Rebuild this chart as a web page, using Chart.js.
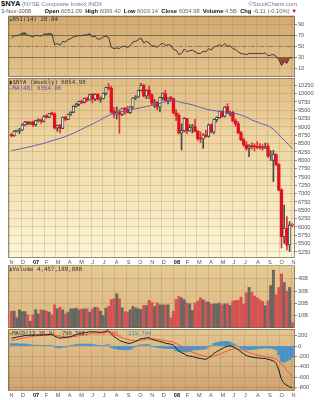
<!DOCTYPE html>
<html>
<head>
<meta charset="utf-8">
<title>$NYA weekly</title>
<script src="https://cdn.jsdelivr.net/npm/chart.js@4.4.1/dist/chart.umd.min.js"></script>
<style>
  html, body { margin: 0; padding: 0; background: #fff; }
  #chart { position: relative; width: 322px; height: 400px; overflow: hidden; }
  #chart canvas { position: absolute; left: 0; }
  .txt { position: absolute; white-space: nowrap; line-height: 1; font-family: 'Liberation Sans', 'DejaVu Sans', sans-serif; }
  .lg { position: absolute; white-space: nowrap; line-height: 1; font-family: 'DejaVu Sans Mono', monospace; font-size: 5.8px; color: #333; }
  .txt b { color: #111; }
</style>
</head>
<body>
<div id="chart">
  <canvas id="rsiPanel" width="322" height="62" style="top:15px;width:322px;height:62px"></canvas>
  <canvas id="pricePanel" width="322" height="188" style="top:78px;width:322px;height:188px"></canvas>
  <canvas id="volumePanel" width="322" height="63" style="top:265px;width:322px;height:63px"></canvas>
  <canvas id="macdPanel" width="322" height="71" style="top:329px;width:322px;height:71px"></canvas>

  <div class="txt" style="left:1px;top:0px;font-size:7.5px;font-weight:bold;color:#111">$NYA</div>
  <div class="txt" style="left:22px;top:1.5px;font-size:5.8px;color:#777">(NYSE Composite Index) INDX</div>
  <div class="txt" style="right:25px;top:1.5px;font-size:5.8px;color:#777">&copy;StockCharts.com</div>
  <div class="txt" style="left:1px;top:9px;font-size:5.8px;color:#555">3-Nov-2008</div>
  <div class="txt" style="right:25px;top:9px;font-size:5.8px;color:#666"><b>Open</b> 6051.09 &nbsp;<b>High</b> 6099.40 &nbsp;<b>Low</b> 6003.14 &nbsp;<b>Close</b> 6054.98 &nbsp;<b>Volume</b> 4.5B &nbsp;<b>Chg</b> -6.11 (-0.10%) <span style="color:#d00">&#9660;</span></div>

  <div class="lg" style="left:9px;top:16.5px"><span style="color:#4d7a2c">&#9650;</span>RSI(14) 28.84</div>
  <div class="lg" style="left:9px;top:79.5px"><span style="color:#111">&#9646;</span>$NYA (Weekly) 6054.98</div>
  <div class="lg" style="left:9px;top:86px;color:#5858b0"><span>&mdash;</span>MA(40) 8354.86</div>
  <div class="lg" style="left:9px;top:266.5px"><span style="color:#555">&#9646;</span>Volume 4,457,189,888</div>
  <div class="lg" style="left:9px;top:330.5px;font-size:5.5px"><span style="color:#111">&mdash;</span>MACD(12,26,9) -799.502, <span style="color:#e8462e">-579.708,</span> <span style="color:#3d86c0">-219.794</span></div>
</div>

<script>
// ---- weekly series, first week starting 6 Nov 2006 ----
const firstWeek = Date.UTC(2006, 10, 6);

const openP = [
  8770, 8740, 8870, 8880, 8910, 9060, 9150, 9090, 9150, 9070,
  9190, 9200, 9170, 9330, 9290, 9410, 9390, 8970, 9040, 8960,
  9290, 9230, 9380, 9440, 9620, 9680, 9760, 9740, 9850, 9810,
  9970, 9840, 9980, 9830, 9850, 10010, 10180, 10160, 9470, 9390,
  9430, 9380, 9560, 9530, 9430, 9600, 9870, 9900, 10100, 10250,
  9930, 10100, 9960, 9720, 9740, 9600, 9880, 10000, 9800, 9870,
  9850, 9420, 9350, 8820, 8890, 9250, 8880, 8980, 9010, 8870,
  8650, 8640, 8760, 8720, 9060, 8850, 9220, 9280, 9460, 9320,
  9600, 9410, 9440, 9180, 9090, 8820, 8610, 8460, 8360, 8420,
  8410, 8400, 8390, 8380, 8370, 8420, 8130, 8000, 8170, 7870,
  7110, 5710, 5960, 5460, 6051.09
];
const highP = [
  8800, 8890, 8910, 8960, 9090, 9170, 9170, 9160, 9180, 9200,
  9240, 9240, 9340, 9370, 9410, 9450, 9420, 9060, 9080, 9300,
  9320, 9390, 9460, 9640, 9710, 9780, 9810, 9870, 9890, 9990,
  10010, 10000, 10010, 9900, 10020, 10190, 10300, 10220, 9590, 9600,
  9520, 9570, 9590, 9620, 9620, 9880, 9940, 10110, 10310, 10280,
  10120, 10230, 10000, 9830, 9760, 9900, 10020, 10100, 9880, 9920,
  9870, 9520, 9400, 9090, 9280, 9260, 9070, 9080, 9230, 8900,
  8850, 8800, 8900, 9090, 9090, 9240, 9300, 9470, 9490, 9620,
  9700, 9470, 9470, 9240, 9160, 8870, 8660, 8560, 8470, 8530,
  8500, 8560, 8500, 8470, 8520, 8510, 8290, 8300, 8200, 7900,
  7150, 6660, 6310, 6160, 6099.40
];
const lowP = [
  8700, 8720, 8850, 8800, 8890, 9040, 9060, 9070, 9010, 9030,
  9150, 9110, 9150, 9270, 9280, 9360, 8940, 8870, 8820, 8950,
  9180, 9220, 9350, 9430, 9600, 9640, 9700, 9720, 9760, 9800,
  9720, 9790, 9810, 9740, 9840, 9960, 10120, 9420, 9280, 9240,
  8810, 9340, 9380, 9420, 9400, 9560, 9820, 9880, 10080, 9900,
  9850, 9850, 9660, 9580, 9510, 9450, 9810, 9780, 9690, 9780,
  9400, 9190, 8790, 8310, 8850, 8800, 8870, 8820, 8850, 8600,
  8530, 8360, 8690, 8700, 8820, 8800, 9150, 9260, 9290, 9300,
  9390, 9330, 9150, 9020, 8800, 8590, 8420, 8300, 8110, 8330,
  8280, 8350, 8330, 8300, 8350, 8080, 7990, 7360, 7840, 7080,
  5370, 5510, 5310, 5260, 6003.14
];
const closeP = [
  8740, 8870, 8880, 8910, 9060, 9150, 9090, 9140, 9070, 9190,
  9200, 9170, 9310, 9290, 9400, 9390, 8970, 9040, 8960, 9280,
  9230, 9380, 9440, 9620, 9680, 9760, 9740, 9850, 9810, 9970,
  9840, 9980, 9830, 9850, 10010, 10180, 10160, 9440, 9390, 9430,
  9380, 9560, 9530, 9430, 9600, 9870, 9900, 10100, 10250, 9930,
  10100, 9960, 9720, 9740, 9600, 9880, 10000, 9800, 9870, 9850,
  9420, 9350, 8820, 8890, 9250, 8880, 8980, 9010, 8870, 8650,
  8640, 8760, 8720, 9060, 8850, 9220, 9280, 9460, 9320, 9600,
  9410, 9440, 9180, 9090, 8820, 8610, 8460, 8360, 8420, 8410,
  8400, 8390, 8380, 8370, 8420, 8130, 8160, 8170, 7870, 7110,
  5710, 5960, 5460, 6061.09, 6054.98
];
const ma40 = [
  8290, 8305, 8320, 8340, 8355, 8375, 8390, 8410, 8430, 8450,
  8470, 8490, 8510, 8535, 8560, 8585, 8610, 8635, 8660, 8685,
  8710, 8745, 8780, 8815, 8850, 8890, 8930, 8970, 9010, 9050,
  9090, 9125, 9170, 9215, 9260, 9305, 9345, 9380, 9405, 9430,
  9448, 9465, 9480, 9497, 9513, 9530, 9547, 9563, 9580, 9597,
  9613, 9630, 9650, 9670, 9690, 9710, 9740, 9750, 9760, 9770,
  9778, 9775, 9755, 9735, 9715, 9700, 9685, 9665, 9640, 9615,
  9590, 9565, 9540, 9520, 9505, 9490, 9478, 9468, 9458, 9448,
  9439, 9428, 9417, 9405, 9385, 9360, 9330, 9295, 9255, 9210,
  9180, 9150, 9120, 9090, 9062, 9030, 8990, 8930, 8860, 8770,
  8680, 8600, 8520, 8440, 8354.86
];
const rsi14 = [
  65, 69, 69.5, 70.5, 74, 74.5, 70.5, 69, 67, 70,
  69.5, 68.5, 72, 72.5, 73, 72.5, 53, 55, 52, 59,
  58, 62, 64, 67, 68.5, 69.5, 69, 71, 70.5, 73,
  67, 68.5, 63, 63.5, 67, 68.5, 66, 48, 46, 47,
  46, 50, 50, 48, 51, 58, 59, 62, 65, 56,
  59, 56, 50, 51, 48, 53, 56, 51, 53, 52,
  44, 43, 35, 37, 45, 40, 42, 43, 40, 37,
  37, 41, 40, 46, 43, 49, 50, 53, 50, 55,
  50, 51, 46, 44, 40, 37, 36, 35, 37, 37,
  37, 37, 37, 37, 38, 33, 34, 35, 32, 26,
  15, 22, 19, 29.5, 28.84
];
// weekly volume, billions of shares
const volumeB = [
  13.7, 13.7, 8.3, 14.8, 13.4, 13.4, 10.7, 5.5, 10.7, 14.8,
  11.5, 14.8, 14.3, 13.7, 12.9, 10.7, 18.8, 15.6, 16.9, 14.8,
  11.5, 12.9, 15.6, 15.6, 16.1, 14.8, 15.3, 15.6, 15.6, 12.9,
  15.6, 16.9, 16.4, 13.7, 10.2, 16.1, 17.5, 23.2, 23.7, 27.8,
  23.7, 16.4, 13.4, 12.9, 14.8, 17.5, 16.4, 15.6, 15.1, 18.3,
  18.3, 22.4, 21.0, 17.5, 20.5, 18.8, 18.8, 18.8, 18.8, 8.3,
  13.7, 23.2, 25.6, 24.5, 22.9, 20.2, 19.6, 14.3, 20.2, 21.8,
  24.5, 22.9, 21.4, 21.0, 19.1, 19.6, 19.6, 20.2, 18.8, 19.6,
  19.6, 18.3, 21.8, 22.4, 22.4, 25.1, 19.5, 28.6, 33.0, 29.0,
  26.0, 24.5, 23.0, 21.5, 18.0, 22.0, 34.5, 47.0, 27.0, 33.0,
  44.0, 37.0, 30.0, 33.0, 4.457189888
];
const macdLine = [
  148, 160, 172, 180, 190, 200, 205, 208, 205, 210,
  212, 208, 215, 218, 222, 226, 188, 168, 150, 160,
  160, 170, 180, 200, 218, 235, 245, 258, 262, 275,
  272, 275, 268, 262, 268, 282, 290, 230, 180, 148,
  110, 88, 70, 55, 52, 70, 88, 112, 140, 145,
  158, 160, 128, 115, 100, 85, 75, 55, 45, 35,
  19, -45, -90, -128, -150, -185, -195, -203, -215, -230,
  -240, -250, -256, -225, -190, -140, -110, -80, -50, -25,
  -5, 0, -15, -35, -75, -115, -150, -185, -200, -213,
  -220, -228, -232, -237, -240, -255, -268, -290, -330, -460,
  -640, -720, -755, -785, -799.502
];
const signalLine = [
  102, 115, 125, 140, 150, 160, 170, 180, 188, 192,
  197, 200, 203, 206, 210, 213, 208, 200, 190, 184,
  180, 178, 178, 182, 189, 198, 208, 218, 227, 237,
  244, 250, 254, 255, 258, 263, 268, 260, 230, 205,
  180, 160, 143, 128, 115, 107, 104, 106, 113, 120,
  128, 134, 135, 133, 130, 122, 113, 104, 95, 86,
  72, 48, 20, -10, -40, -72, -98, -120, -140, -158,
  -175, -190, -202, -207, -204, -192, -176, -157, -136, -114,
  -92, -73, -61, -56, -60, -71, -87, -107, -125, -143,
  -158, -172, -184, -195, -204, -214, -225, -237, -250, -290,
  -345, -405, -465, -525, -579.708
];

// ---- axis labels ----
const monthLabels = ['N','D','07','F','M','A','M','J','J','A','S','O',
                     'N','D','08','F','M','A','M','J','J','A','S','O','N'];
const rsiTicks = [90, 70, 50, 30, 10];
const priceTicks = [10250, 10000, 9750, 9500, 9250, 9000, 8750, 8500, 8250, 8000,
                    7750, 7500, 7250, 7000, 6750, 6500, 6250, 6000, 5750, 5500, 5250];
const volumeTicks = [40, 30, 20, 10];
const volumeTickLabels = ['40B', '30B', '20B', '10B'];
const macdTicks = [200, 0, -200, -400, -600, -800];

// ---- derived helpers ----
const WEEK = 7 * 86400000;
const monthTicks = monthLabels.map((_, k) => (Date.UTC(2006, 10 + k, 1) - firstWeek) / WEEK);
const weekIdx = closeP.map((_, i) => i);
const downWeek = closeP.map((c, i) => c < (i > 0 ? closeP[i - 1] : openP[i]));
const filledBody = closeP.map((c, i) => c < openP[i]);
const histogram = macdLine.map((m, i) => m - signalLine[i]);

const RED = '#e2101c', DARK = '#2e2e2e';
const GRID = 'rgba(140,100,50,0.2)';
const FONT_FAMILY = "'Liberation Sans','DejaVu Sans',sans-serif";
const X_MIN = -1.25, X_MAX = 105;

Chart.defaults.font.family = FONT_FAMILY;

const panelBg = {
  id: 'panelBg',
  beforeDraw(chart, _args, o) {
    const { ctx, chartArea: a } = chart;
    const g = ctx.createLinearGradient(0, a.top, 0, a.bottom);
    o.stops.forEach(s => g.addColorStop(s[0], s[1]));
    ctx.save();
    ctx.fillStyle = g;
    ctx.fillRect(a.left, a.top, a.right - a.left, a.bottom - a.top);
    ctx.restore();
  },
  afterDraw(chart, _args, o) {
    const { ctx, chartArea: a } = chart;
    const L = Math.round(a.left) + 0.5, R = Math.round(a.right) - 0.5;
    const T = Math.round(a.top) + 0.5, B = Math.round(a.bottom) - 0.5;
    const side = (x1, y1, x2, y2, dash) => {
      ctx.beginPath();
      ctx.setLineDash(dash ? [1, 1] : []);
      ctx.moveTo(x1, y1); ctx.lineTo(x2, y2); ctx.stroke();
    };
    ctx.save();
    ctx.strokeStyle = 'rgba(110,95,75,0.7)';
    ctx.lineWidth = 1;
    side(L, T, R, T, o.dashTop);
    side(L, B, R, B, o.dashBottom);
    side(L, T, L, B, false);
    side(R, T, R, B, false);
    ctx.restore();
  }
};

const refLines = {
  id: 'refLines',
  beforeDatasetsDraw(chart, _args, o) {
    const { ctx, chartArea: a, scales: { y } } = chart;
    (o.lines || []).forEach(l => {
      const py = Math.round(y.getPixelForValue(l.value)) + 0.5;
      ctx.save();
      ctx.strokeStyle = l.color;
      ctx.lineWidth = 1;
      ctx.setLineDash(l.dash || []);
      ctx.beginPath();
      ctx.moveTo(a.left, py);
      ctx.lineTo(a.right, py);
      ctx.stroke();
      ctx.restore();
    });
  }
};

function xAxis(showLabels, height) {
  return {
    type: 'linear', min: X_MIN, max: X_MAX, offset: false, bounds: 'data',
    afterBuildTicks: s => { s.ticks = monthTicks.map(v => ({ value: v })); },
    afterFit: s => { s.height = height; s.paddingLeft = 0; s.paddingRight = 0; },
    grid: { color: GRID, lineWidth: 1, drawTicks: false, offset: false },
    border: { display: false },
    ticks: {
      display: showLabels, autoSkip: false, maxRotation: 0, minRotation: 0,
      align: 'start', padding: 1,
      color: c => (monthLabels[c.index] || '').length > 1 ? '#111' : '#555',
      font: c => ({ family: FONT_FAMILY, size: 5.6,
                    weight: (monthLabels[c.index] || '').length > 1 ? 'bold' : 'normal' }),
      callback: (v, i) => monthLabels[i]
    }
  };
}

function yAxis(min, max, ticks, labels) {
  return {
    type: 'linear', position: 'right', min, max, bounds: 'data',
    afterBuildTicks: s => { s.ticks = ticks.map(v => ({ value: v })); },
    afterFit: s => { s.width = 27; s.paddingTop = 0; s.paddingBottom = 0; },
    grid: { color: GRID, lineWidth: 1, drawTicks: true, tickLength: 2, tickColor: '#8c8c8c' },
    border: { display: false },
    ticks: {
      autoSkip: false, padding: 1, color: '#555', font: { family: FONT_FAMILY, size: 5.6 },
      callback: (v, i) => labels ? labels[i] : String(v)
    }
  };
}

function baseOptions(extra) {
  return Object.assign({
    responsive: false, animation: false, devicePixelRatio: 1,
    events: [],
    layout: { padding: { left: 8, right: 0, top: 0, bottom: 0 } }
  }, extra);
}

// ---- RSI(14) ----
const rsiPoints = weekIdx.map(i => ({ x: i, y: rsi14[i] }));
new Chart(document.getElementById('rsiPanel'), {
  type: 'line',
  data: {
    datasets: [
      { data: rsiPoints, borderColor: '#3a3a3a', borderWidth: 1, pointRadius: 0,
        fill: { target: { value: 70 }, above: 'rgba(70,115,40,0.9)', below: 'rgba(0,0,0,0)' } },
      { data: rsiPoints, borderWidth: 0, borderColor: 'rgba(0,0,0,0)', pointRadius: 0,
        fill: { target: { value: 30 }, above: 'rgba(0,0,0,0)', below: '#9b4a2e' } }
    ]
  },
  options: baseOptions({
    layout: { padding: { left: 8, right: 0, top: 0.5, bottom: 0 } },
    plugins: {
      legend: { display: false }, tooltip: { enabled: false },
      panelBg: { stops: [[0, '#d3a970'], [1, '#e3c491']] },
      refLines: { lines: [
        { value: 70, color: 'rgba(125,110,90,0.9)' },
        { value: 30, color: 'rgba(125,110,90,0.9)' },
        { value: 50, color: 'rgba(125,110,90,0.8)', dash: [4, 2, 1, 2] }
      ] }
    },
    scales: { x: xAxis(false, 0), y: yAxis(-5.8, 106, rsiTicks) }
  }),
  plugins: [panelBg, refLines]
});

// ---- price: weekly candles with 40-week moving average ----
const bodyColor = weekIdx.map(i => downWeek[i] ? RED : DARK);
new Chart(document.getElementById('pricePanel'), {
  type: 'bar',
  data: {
    datasets: [
      { type: 'line', data: weekIdx.map(i => ({ x: i, y: ma40[i] })),
        borderColor: '#5a5ab6', borderWidth: 1, pointRadius: 0, tension: 0.2 },
      { data: weekIdx.map(i => ({ x: i, y: [openP[i], closeP[i]] })),
        grouped: false, barThickness: 2.6, minBarLength: 1, borderSkipped: false,
        backgroundColor: weekIdx.map(i => filledBody[i] ? bodyColor[i] : 'rgba(255,251,236,0.9)'),
        borderColor: bodyColor, borderWidth: weekIdx.map(i => filledBody[i] ? 0 : 0.8) },
      { data: weekIdx.map(i => ({ x: i, y: [lowP[i], highP[i]] })),
        grouped: false, barThickness: 1, borderWidth: 0,
        backgroundColor: weekIdx.map(i => downWeek[i] ? '#e0303a' : '#4a4a4a') }
    ]
  },
  options: baseOptions({
    plugins: {
      legend: { display: false }, tooltip: { enabled: false },
      panelBg: { stops: [[0, '#e0bc84'], [0.35, '#eed6a4'], [1, '#fcf6d6']] }
    },
    scales: { x: xAxis(true, 8), y: yAxis(5069, 10469, priceTicks) }
  }),
  plugins: [panelBg]
});

// ---- volume ----
new Chart(document.getElementById('volumePanel'), {
  type: 'bar',
  data: {
    datasets: [
      { data: weekIdx.map(i => ({ x: i, y: volumeB[i] })),
        grouped: false, barThickness: 2.3, borderWidth: 0,
        backgroundColor: weekIdx.map(i => downWeek[i] ? '#d55252' : '#6b6660') }
    ]
  },
  options: baseOptions({
    plugins: {
      legend: { display: false }, tooltip: { enabled: false },
      panelBg: { stops: [[0, '#e6c994'], [1, '#dbb781']], dashTop: true }
    },
    scales: { x: xAxis(false, 0), y: yAxis(0, 51.2, volumeTicks, volumeTickLabels) }
  }),
  plugins: [panelBg]
});

// ---- MACD(12,26,9) ----
new Chart(document.getElementById('macdPanel'), {
  type: 'bar',
  data: {
    datasets: [
      { type: 'line', data: weekIdx.map(i => ({ x: i, y: macdLine[i] })),
        borderColor: '#151515', borderWidth: 1, pointRadius: 0, tension: 0.2 },
      { type: 'line', data: weekIdx.map(i => ({ x: i, y: signalLine[i] })),
        borderColor: '#f0523a', borderWidth: 1, pointRadius: 0, tension: 0.2 },
      { data: weekIdx.map(i => ({ x: i, y: histogram[i] })),
        grouped: false, barThickness: 2.3, borderWidth: 0, backgroundColor: '#4b92c9' }
    ]
  },
  options: baseOptions({
    plugins: {
      legend: { display: false }, tooltip: { enabled: false },
      panelBg: { stops: [[0, '#e3c690'], [1, '#cea374']], dashBottom: true }
    },
    scales: { x: xAxis(true, 9), y: yAxis(-865, 327, macdTicks) }
  }),
  plugins: [panelBg]
});
</script>
</body>
</html>
